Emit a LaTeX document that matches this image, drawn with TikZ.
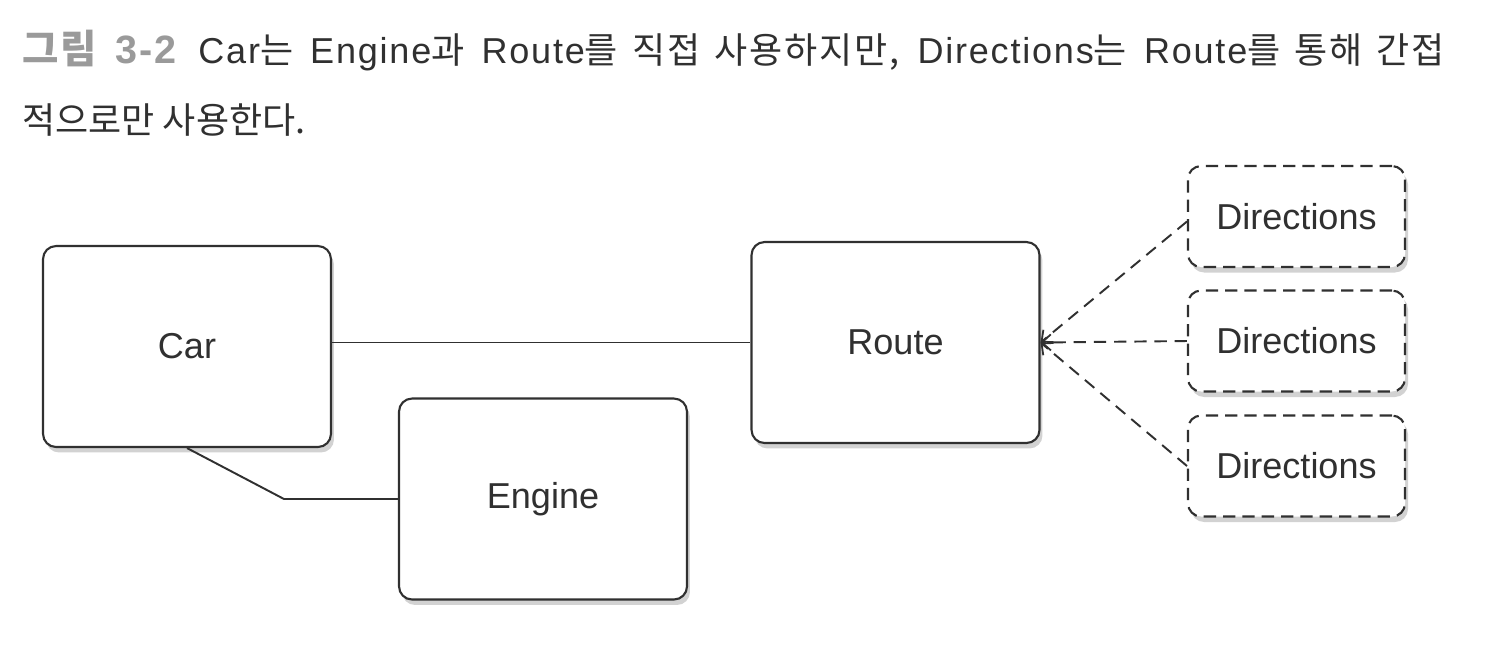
\documentclass[tikz,border=0pt]{standalone}
\usepackage{fontspec}
\setmainfont{Liberation Sans}
\newfontfamily\kr{Noto Sans CJK KR}
\newfontfamily\krsp{Noto Sans CJK KR}[LetterSpace=5]
\newfontfamily\lsp{Liberation Sans}[LetterSpace=5]
\usetikzlibrary{arrows.meta,shadows}
\definecolor{ink}{HTML}{303030}
\definecolor{titlegray}{HTML}{9A9A9A}
\hbadness=10000
\begin{document}
\begin{tikzpicture}[x=0.02cm,y=-0.02cm,
  box/.style={draw=ink,line width=1.2pt,rounded corners=0.26cm,fill=white,
    drop shadow={opacity=0.35,shadow xshift=0.6mm,shadow yshift=-1.1mm},
    font=\fontsize{20.5}{24}\selectfont,text=ink,inner sep=0pt},
  bigbox/.style={box,minimum width=5.76cm,minimum height=4.02cm},
  dirbox/.style={box,dashed,dash pattern=on 7pt off 4pt,minimum width=4.34cm,minimum height=2.02cm},
  link/.style={draw=ink,line width=1.1pt},
  dep/.style={draw=ink,line width=1.1pt,dash pattern=on 7pt off 4.5pt,-{Straight Barb[length=1.8mm,width=3.2mm,line width=1pt]}},
  titletext/.style={anchor=base west,inner sep=0pt,font=\fontsize{20.5}{24}\selectfont,text=ink}]
\useasboundingbox (0,0) rectangle (1506,664);
\fill[white] (0,0) rectangle (1506,664);
\node[titletext] (t1) at (22,63) {\hbox to 28.46cm{\lsp{\color{titlegray}\fontsize{22.5}{24}\selectfont\bfseries{\krsp 그림} 3-2}\hspace{0.6em}Car{\krsp 는} Engine{\krsp 과} Route{\krsp 를 직접 사용하지만,} Directions{\krsp 는} Route{\krsp 를 통해 간접}}};
\node[titletext] (t2) at (22,133) {{\kr 적으로만 사용한다.}};
\node[bigbox] (car) at (187,346.5) {Car};
\node[bigbox] (engine) at (543,499) {Engine};
\node[bigbox] (route) at (895.5,342.5) {Route};
\node[dirbox] (d1) at (1296.5,216.5) {Directions};
\node[dirbox] (d2) at (1296.5,341) {Directions};
\node[dirbox] (d3) at (1296.5,466) {Directions};
\draw[link] (car.east |- route.west) -- (route.west);
\draw[link] (car.south) -- ([xshift=-2.28cm]engine.west) -- (engine.west);
\draw[dep] ([yshift=-0.1cm]d1.west) -- (route.east);
\draw[dep] (d2.west) -- (route.east);
\draw[dep] (d3.west) -- (route.east);
\end{tikzpicture}
\end{document}
